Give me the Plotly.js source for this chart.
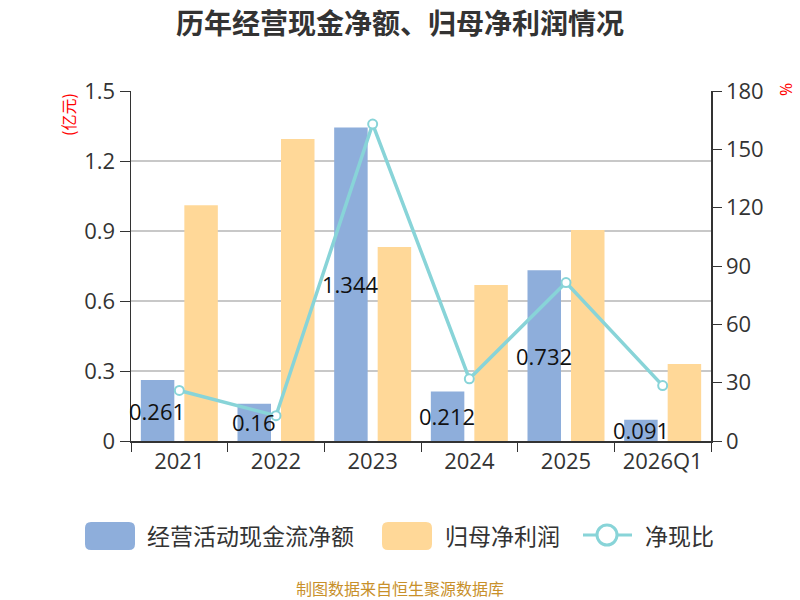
<!DOCTYPE html>
<html>
<head>
<meta charset="utf-8">
<script src="https://cdn.plot.ly/plotly-3.0.1.min.js"></script>
<style>html,body{margin:0;padding:0;background:#fff}#chart{width:800px;height:600px}</style>
</head>
<body>
<div id="chart"></div>
<script>
const categories = ["2021", "2022", "2023", "2024", "2025", "2026Q1"];
const cashFlow = [0.261, 0.16, 1.344, 0.212, 0.732, 0.091];
const netProfit = [1.01, 1.294, 0.831, 0.669, 0.904, 0.33];
const ratio = [26, 13, 163, 32, 81.5, 28.5];
const cashLabels = ["0.261", "0.16", "1.344", "0.212", "0.732", "0.091"];
const seriesNames = ["经营活动现金流净额", "归母净利润", "净现比"];

const font = "Open Sans, Noto Sans CJK SC, sans-serif";
const cjk = "Noto Sans CJK SC, sans-serif";
const blue = "#8EAEDB", orange = "#FFD898", teal = "#88D4D8";

const traces = [
  {type: "bar", name: seriesNames[0], x: categories, y: cashFlow,
   marker: {color: blue}, hoverinfo: "none"},
  {type: "bar", name: seriesNames[1], x: categories, y: netProfit,
   marker: {color: orange}, hoverinfo: "none"},
  {type: "scatter", mode: "lines+markers", name: seriesNames[2], x: categories, y: ratio, yaxis: "y2",
   line: {color: teal, width: 3.5},
   marker: {symbol: "circle", size: 9, color: "#ffffff", line: {color: teal, width: 2}}}
];

const annotations = categories.map((c, i) => ({
  x: i, y: cashFlow[i] / 2, xref: "x", yref: "y", xshift: -22,
  xanchor: "center", yanchor: "middle",
  text: cashLabels[i], showarrow: false,
  font: {family: font, size: 22, color: "#111"}
}));

// paper coordinates helpers (plot area: x 131..711, y 91..441)
const px = v => (v - 131) / 580;
const py = v => (441 - v) / 350;

function pnote(x, y, text, f, extra) {
  return Object.assign({xref: "paper", yref: "paper", x: px(x), y: py(y), text: text, showarrow: false,
    xanchor: "center", yanchor: "middle", font: f}, extra || {});
}

annotations.push(
  pnote(68, 115, "(亿元)", {family: cjk, size: 16, color: "#ff0000"}, {textangle: -90}),
  pnote(786, 90, "%", {family: font, size: 16, color: "#ff0000"}, {textangle: -90}),
  pnote(400, 588, "制图数据来自恒生聚源数据库", {family: cjk, size: 16, color: "#C8902A"}),
  pnote(145, 535, seriesNames[0], {family: cjk, size: 23, color: "#333"}, {xanchor: "left"}),
  pnote(443, 535, seriesNames[1], {family: cjk, size: 23, color: "#333"}, {xanchor: "left"}),
  pnote(643, 535, seriesNames[2], {family: cjk, size: 23, color: "#333"}, {xanchor: "left"})
);

function roundRect(x0, y0, x1, y1, r, color) {
  const a = px(x0), b = px(x1), c = px(x0 + r), d = px(x1 - r);
  const top = py(y0), bot = py(y1), t2 = py(y0 + r), b2 = py(y1 - r);
  const path = `M ${c} ${top} L ${d} ${top} Q ${b} ${top} ${b} ${t2} L ${b} ${b2} Q ${b} ${bot} ${d} ${bot} ` +
               `L ${c} ${bot} Q ${a} ${bot} ${a} ${b2} L ${a} ${t2} Q ${a} ${top} ${c} ${top} Z`;
  return {type: "path", xref: "paper", yref: "paper", path: path, fillcolor: color, line: {width: 0}};
}

const shapes = [
  roundRect(85, 522, 135, 550, 6, blue),
  roundRect(382, 522, 432, 550, 6, orange),
  {type: "line", xref: "paper", yref: "paper", x0: px(583), x1: px(632), y0: py(535), y1: py(535),
   line: {color: teal, width: 3}},
  {type: "circle", xref: "paper", yref: "paper", x0: px(597), x1: px(617), y0: py(545), y1: py(525),
   fillcolor: "#ffffff", line: {color: teal, width: 3}}
];

const layout = {
  width: 800, height: 600,
  margin: {l: 131, r: 89, t: 91, b: 159},
  paper_bgcolor: "#fff", plot_bgcolor: "#fff",
  title: {text: "<b>历年经营现金净额、归母净利润情况</b>", x: 0.5, xanchor: "center", y: 0.96, yanchor: "middle",
          font: {family: cjk, size: 28, color: "#333"}},
  barmode: "group", bargap: 0.1, bargroupgap: 0.23,
  showlegend: false,
  xaxis: {type: "category", range: [-0.5, 5.5], autorange: false, showline: true, linecolor: "#333", linewidth: 1.5,
          ticks: "outside", tickson: "boundaries", ticklen: 9, tickcolor: "#333",
          tickfont: {family: font, size: 22, color: "#333"}, showgrid: false},
  yaxis: {range: [0, 1.5], dtick: 0.3, showline: true, linecolor: "#333", linewidth: 1.5,
          ticks: "outside", ticklen: 10, tickcolor: "#333",
          gridcolor: "#c8c8c8", gridwidth: 1.5, zeroline: false,
          tickfont: {family: font, size: 22, color: "#333"}},
  yaxis2: {range: [0, 180], dtick: 30, overlaying: "y", side: "right", showline: true, linecolor: "#333", linewidth: 1.5,
           ticks: "outside", ticklen: 9, tickcolor: "#333", showgrid: false, zeroline: false,
           tickfont: {family: font, size: 22, color: "#333"}},
  annotations: annotations,
  shapes: shapes
};

Plotly.newPlot("chart", traces, layout, {displayModeBar: false, staticPlot: true});
</script>
</body>
</html>
